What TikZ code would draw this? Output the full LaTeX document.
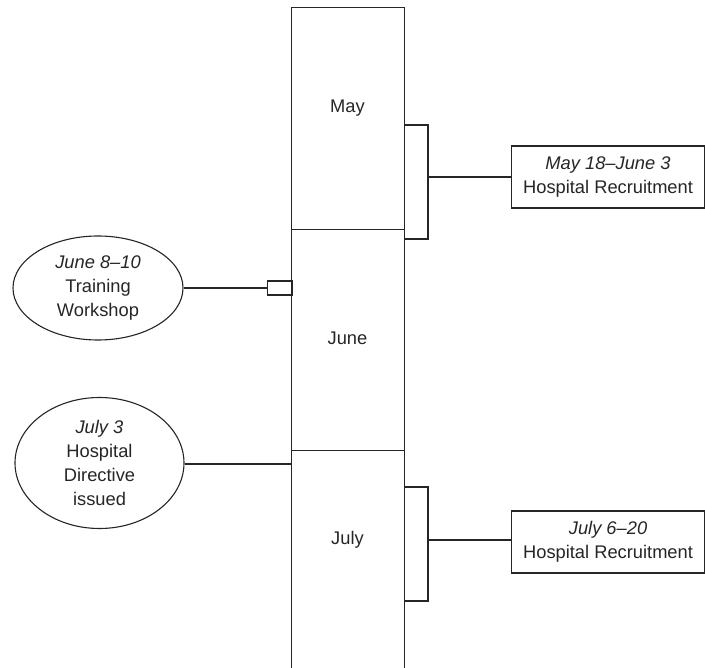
\documentclass[tikz,border=0pt]{standalone}
\usepackage{fontspec}
\setmainfont{Liberation Sans}
\usetikzlibrary{shapes.geometric}
\begin{document}
\begin{tikzpicture}[x=1pt,y=-1pt,
  ln/.style={draw=black!85,line width=1.1pt},
  month/.style={ln,minimum width=113pt,inner sep=0pt,anchor=north west},
  txt/.style={font=\fontsize{18.3}{24}\selectfont,align=center,text=black!85},
  evbox/.style={ln,txt,minimum width=193pt,minimum height=62pt,inner sep=0pt,anchor=west},
  evell/.style={ln,txt,ellipse,inner sep=0pt},
  tab/.style={ln,minimum width=25pt,minimum height=14pt,inner sep=0pt,anchor=west}]
\useasboundingbox (0,0) rectangle (705,668);
\fill[white] (0,0) rectangle (705,668);
% month column
\node[month,minimum height=222pt] (may) at (291,7) {};
\node[month,minimum height=221pt] (june) at (291,229) {};
\node[month,minimum height=226pt] (july) at (291,450) {};
\node[txt] (maylbl) at (347.5,108) {May};
\node[txt] (junelbl) at (347.5,338) {June};
\node[txt] (julylbl) at (347.5,540) {July};
% May recruitment
\coordinate (b1a) at (404,125);
\coordinate (b1b) at (404,239);
\coordinate (b1m) at (428,177);
\draw[ln] (b1a) -- (428,125) -- (428,239) -- (b1b);
\node[evbox] (rec1) at (511,177) {\textit{May 18–June 3}\\Hospital Recruitment};
\draw[ln] (b1m) -- (rec1.west);
% July recruitment
\coordinate (b2a) at (404,487);
\coordinate (b2b) at (404,601);
\coordinate (b2m) at (428,540);
\draw[ln] (b2a) -- (428,487) -- (428,601) -- (b2b);
\node[evbox] (rec2) at (511,542) {\textit{July 6–20}\\Hospital Recruitment};
\draw[ln] (b2m) -- (rec2.west |- b2m);
% Training workshop
\node[evell,minimum width=170pt,minimum height=104pt] (work) at (98,288) {\textit{June 8–10}\\Training\\Workshop};
\node[tab] (worktab) at (267,288) {};
\draw[ln] (work.east) -- (worktab.west);
% Directive
\node[evell,minimum width=169pt,minimum height=131pt] (dir) at (99.5,463) {\textit{July 3}\\Hospital\\Directive\\issued};
\coordinate (dirend) at (291,464);
\draw[ln] (dir.east |- dirend) -- (dirend);
\end{tikzpicture}
\end{document}
